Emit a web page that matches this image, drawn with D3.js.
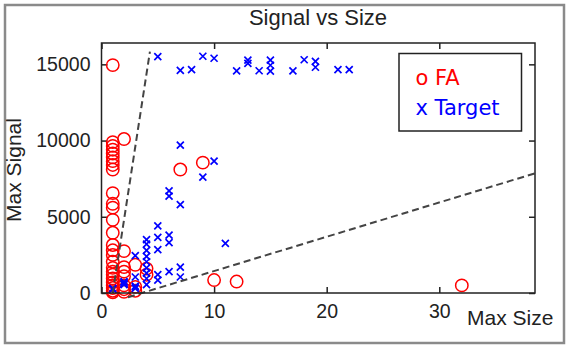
<!DOCTYPE html>
<html><head><meta charset="utf-8">
<script src="https://cdn.jsdelivr.net/npm/d3@7"></script>
<style>body{margin:0;background:#fff}svg{display:block}</style>
</head><body>
<script>
// ---- data ----
const faX = [1, 2, 1,1,1,1,1,1,1,1, 7,9, 1,1,1,1,1,1,1,1,1,1,1,1,1,1,1,1,1,1, 2,2,2,2,2,2,2, 3,3,3, 4,4, 10,12,32];
const faY = [14950, 10100, 9900,9650,9400,9150,8900,8650,8400,8100, 8100,8550,
  6550,5850,5600,4800,3950,3150,2800,2500,2050,1650,1400,1200,950,700,500,330,150,50,
  2750,1700,1400,1100,500,250,80, 1850,400,150, 1600,1200, 850,750,500];
const targetX = [5,7,8,9,10,12,13,13,14,15,15,15,17,18,19,19,21,22,
  7,10,9,6,6,7,11,5,5,6,6,5,4,4,4,3,4,4,4,4,4,4,5,5,6,7,7,3,3,2,2,1,1,2,2,3,3];
const targetY = [15500,14600,14650,15530,15400,14570,15270,15070,14580,15270,14940,14550,14570,15300,15200,14810,14660,14660,
  9700,8650,7600,6700,6350,5800,3250,4400,3650,3800,3300,2850,3500,3200,2800,2450,2400,2050,1650,1300,950,550,1200,850,1400,1700,1050,1050,400,550,750,300,250,600,700,300,450];
const line1X = [1.0, 4.3], line1Y = [0, 15830];
const line2X = [2.35, 38.5], line2Y = [-280, 7850];
const xTicks = [0, 10, 20, 30];
const yTicks = [0, 5000, 10000, 15000];
const titleText = "Signal vs Size", xLabel = "Max Size", yLabel = "Max Signal";
const legendLabels = ["o FA", "x Target"];

// ---- drawing ----
const W = 567, H = 349;
const svg = d3.select("body").append("svg").attr("width", W).attr("height", H);
svg.append("rect").attr("x",0).attr("y",0).attr("width",W).attr("height",H).attr("fill","#fff");
svg.append("rect").attr("x",5).attr("y",5).attr("width",559).attr("height",338)
  .attr("fill","none").attr("stroke","#8a8a8a").attr("stroke-width",2.5);

const L = 101.5, R = 535, T = 43, B = 293;
const x = d3.scaleLinear().domain([0, 38.5]).range([L, R]);
const y = d3.scaleLinear().domain([0, 16400]).range([B, T]);

const tickFont = "'Liberation Sans', Arial, sans-serif";
const gx = svg.append("g").attr("transform",`translate(0,${B})`)
  .call(d3.axisBottom(x).tickValues(xTicks).tickSize(-6).tickPadding(11).tickFormat(d3.format("d")));
const gy = svg.append("g").attr("transform",`translate(${L},0)`)
  .call(d3.axisLeft(y).tickValues(yTicks).tickSize(-6).tickPadding(11).tickFormat(d3.format("d")));
const gt = svg.append("g").attr("transform",`translate(0,${T})`)
  .call(d3.axisTop(x).tickValues(xTicks).tickSize(-6).tickFormat(""));
const gr = svg.append("g").attr("transform",`translate(${R},0)`)
  .call(d3.axisRight(y).tickValues(yTicks).tickSize(-6).tickFormat(""));
[gx,gy,gt,gr].forEach(g=>{
  g.select(".domain").remove();
  g.selectAll("line").attr("stroke","#222").attr("stroke-width",1.5);
  g.selectAll("text").attr("font-family",tickFont).attr("font-size",19.5).attr("fill","#222");
});

const plot = svg.append("g");
// FA circles
plot.selectAll("circle.fa").data(faX.map((d,i)=>[d,faY[i]])).join("circle")
  .attr("class","fa").attr("cx",d=>x(d[0])).attr("cy",d=>y(d[1])).attr("r",6.2)
  .attr("fill","none").attr("stroke","#ff0000").attr("stroke-width",1.5);
// Target x marks
const s = 3.5;
plot.selectAll("path.tg").data(targetX.map((d,i)=>[d,targetY[i]])).join("path")
  .attr("class","tg")
  .attr("d",d=>{const cx=x(d[0]), cy=y(d[1]);
    return `M${cx-s},${cy-s}L${cx+s},${cy+s}M${cx-s},${cy+s}L${cx+s},${cy-s}`;})
  .attr("stroke","#0000ff").attr("stroke-width",1.7).attr("fill","none");

// threshold lines
const lineGen = d3.line().x(d=>x(d[0])).y(d=>y(d[1]));
[[line1X,line1Y],[line2X,line2Y]].forEach(([lx,ly])=>{
  plot.append("path").datum(lx.map((d,i)=>[d,ly[i]])).attr("d",lineGen)
    .attr("fill","none").attr("stroke","#444").attr("stroke-width",2).attr("stroke-dasharray","7,4");
});

// axes box
svg.append("rect").attr("x",L).attr("y",T).attr("width",R-L).attr("height",B-T)
  .attr("fill","none").attr("stroke","#222").attr("stroke-width",1.5);

// legend
svg.append("rect").attr("x",399).attr("y",53.5).attr("width",122.5).attr("height",77.5)
  .attr("fill","#fff").attr("stroke","#222").attr("stroke-width",1.5);
const legFont = "'DejaVu Sans', sans-serif";
svg.append("text").attr("x",415.5).attr("y",85).attr("font-family",legFont).attr("font-size",21)
  .attr("fill","#ff0000").text(legendLabels[0]);
svg.append("text").attr("x",415.5).attr("y",115).attr("font-family",legFont).attr("font-size",21)
  .attr("fill","#0000ff").text(legendLabels[1]);

// labels
svg.append("text").attr("x",318).attr("y",25).attr("text-anchor","middle")
  .attr("font-family",tickFont).attr("font-size",22).attr("fill","#222").text(titleText);
svg.append("text").attr("x",467).attr("y",325)
  .attr("font-family",tickFont).attr("font-size",21).attr("fill","#222").text(xLabel);
svg.append("text").attr("transform","translate(21,170) rotate(-90)").attr("text-anchor","middle")
  .attr("font-family",tickFont).attr("font-size",21).attr("fill","#222").text(yLabel);
</script>
</body></html>
